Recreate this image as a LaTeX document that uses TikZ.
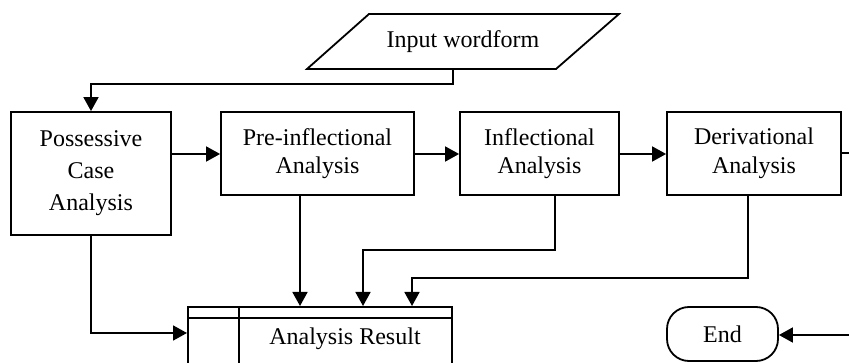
\documentclass[tikz,border=0pt]{standalone}
\usepackage{fontspec}
\setmainfont{Liberation Serif}
\usetikzlibrary{arrows.meta}
\begin{document}
\begin{tikzpicture}[x=1pt,y=-1pt, line width=1.8pt,
  lbl/.style={font=\fontsize{24}{32}\selectfont, align=center, inner sep=0pt},
  lbltwo/.style={font=\fontsize{24}{28.5}\selectfont, align=center, inner sep=0pt},
  box/.style={draw, rectangle},
  arr/.style={draw, -{Triangle[length=14pt,width=15pt]}},
  ln/.style={draw}]
\useasboundingbox (0,0) rectangle (849,363);
\clip (0,0) rectangle (849,363);
% input parallelogram
\draw (369,14) -- (619,14) -- (556,69) -- (307,69) -- cycle;
\node[lbl] (input) at (463,42) {Input wordform};
\coordinate (inb) at (453,69);
% boxes
\node[box, lbl, minimum width=160pt, minimum height=123pt] (poss) at (91,173.5) {Possessive\\Case\\Analysis};
\node[box, lbltwo, minimum width=193pt, minimum height=83pt] (pre) at (317.5,153.5) {Pre-inflectional\\Analysis};
\node[box, lbltwo, minimum width=159pt, minimum height=83pt] (infl) at (539.5,153.5) {Inflectional\\Analysis};
\node[box, lbltwo, minimum width=174pt, minimum height=83pt] (deriv) at (754,153.5) {Derivational\\Analysis};
\node[draw, lbl, rounded corners=22pt, minimum width=111pt, minimum height=54pt] (end) at (722.5,334) {End};
% analysis result
\node[draw, rectangle, minimum width=264pt, minimum height=90pt, anchor=north west, inner sep=0pt] (res) at (187,306) {};
\draw (187,318) -- (451,318);
\draw (239,306) -- (239,396);
\node[lbl] (restext) at (345,339) {Analysis Result};
\coordinate (rout) at (849,153);
\coordinate (rin) at (849,335);
% connectors
\draw[arr] (inb) -- (453,84) -- (91,84) -- (poss.north);
\draw[arr] (poss.east |- 0,154) -- (pre.west |- 0,154);
\draw[arr] (pre.east |- 0,154) -- (infl.west |- 0,154);
\draw[arr] (infl.east |- 0,154) -- (deriv.west |- 0,154);
\draw[ln] (deriv.east |- 0,153) -- (rout);
\draw[arr] (poss.south) -- (91,333) -- (res.west |- 0,333);
\draw[arr] (pre.south -| 300,0) -- (res.north -| 300,0);
\draw[arr] (infl.south -| 555,0) -- (555,250) -- (363,250) -- (res.north -| 363,0);
\draw[arr] (deriv.south -| 748,0) -- (748,278) -- (412,278) -- (res.north -| 412,0);
\draw[arr] (rin) -- (end.east |- rin);
\end{tikzpicture}
\end{document}
